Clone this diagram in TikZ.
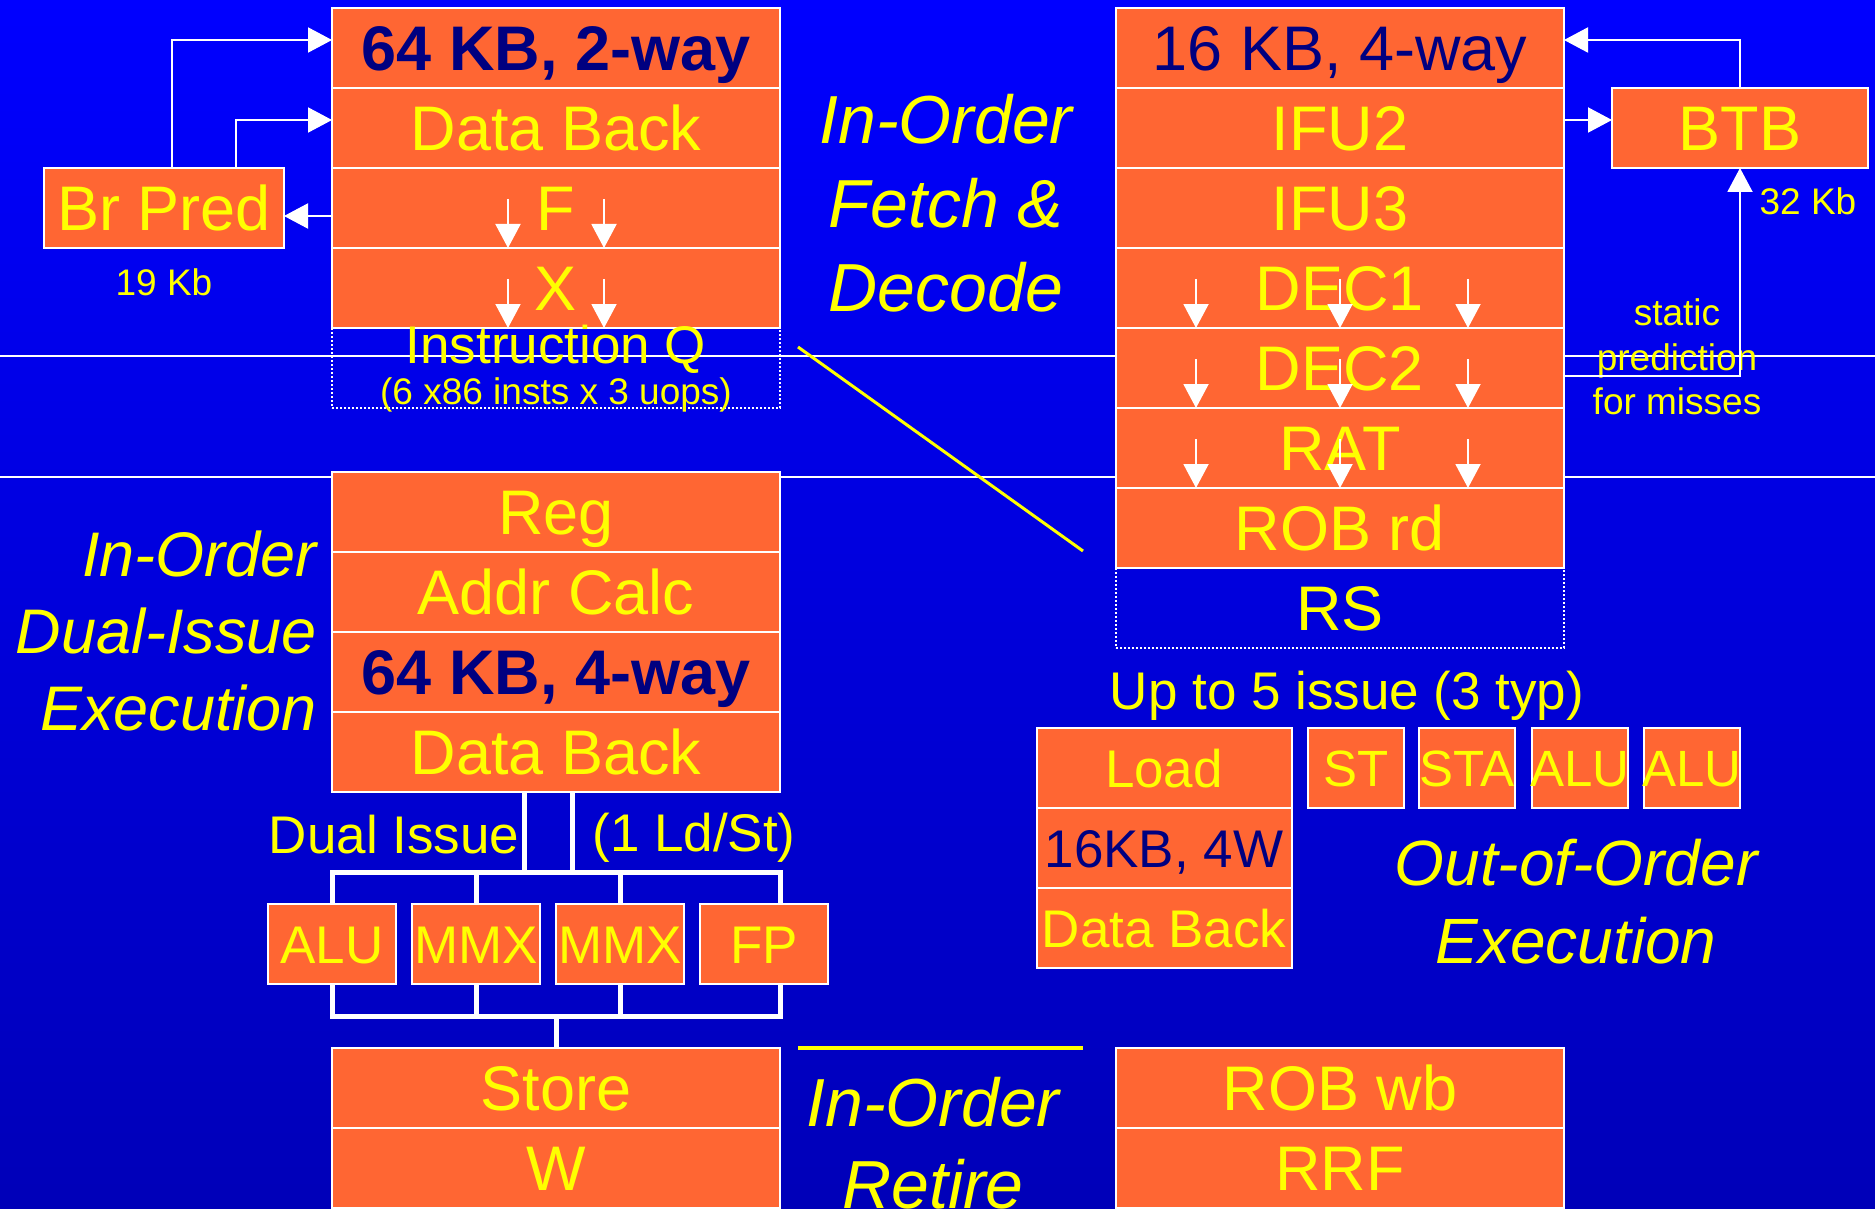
\documentclass[tikz,border=0pt]{standalone}
\usepackage{fontspec}
\setmainfont{Liberation Sans}
\usepackage{tikz}
\usetikzlibrary{arrows.meta,positioning,calc}
\definecolor{stagecol}{HTML}{FF6633}
\definecolor{textcol}{HTML}{FFFF00}
\definecolor{cachecol}{HTML}{000080}
\definecolor{bgtop}{HTML}{0000FF}
\definecolor{bgbot}{HTML}{0000B8}

\begin{document}
\begin{tikzpicture}[x=1pt,y=-1pt,
  stage/.style={draw=white,line width=2pt,fill=stagecol,text=textcol,
                minimum width=448pt,minimum height=80pt,inner sep=0pt,outer sep=0pt,
                font=\fontsize{63}{70}\selectfont,text height=45pt,text depth=0pt},
  cache/.style={stage,text=cachecol},
  bcache/.style={cache,font=\bfseries\fontsize{63}{70}\selectfont},
  loadbox/.style={stage,minimum width=255pt,font=\fontsize{53}{60}\selectfont,text height=38pt},
  unitbox/.style={stage,minimum width=128pt,font=\fontsize{53}{60}\selectfont,text height=38pt},
  portbox/.style={unitbox,minimum width=96pt,font=\fontsize{51}{60}\selectfont,text height=36.5pt},
  queue/.style={stage,fill=none,dash pattern=on 2pt off 2pt},
  flow/.style={draw=white,line width=2pt,-{Triangle[width=25pt,length=24pt]}},
  bus/.style={draw=white,line width=5pt},
  rule/.style={draw=white,line width=1.5pt},
  sep/.style={draw=textcol,line width=3pt},
  note/.style={text=textcol,font=\fontsize{53}{60}\selectfont,inner sep=0pt},
  small/.style={text=textcol,font=\fontsize{37}{44.5}\selectfont,inner sep=0pt,align=center},
  title/.style={text=textcol,inner sep=0pt,align=center},
]
\useasboundingbox (0,0) rectangle (1875,1209);
\shade[top color=bgtop,bottom color=bgbot] (0,0) rectangle (1875,1209);
\draw[rule] (0,356) -- (1875,356);
\draw[rule] (0,477) -- (1875,477);
\coordinate (dg1) at (798,347);
\coordinate (dg2) at (1083,551);
\draw[sep] (dg1) -- (dg2);
\coordinate (rt1) at (798,1048);
\coordinate (rt2) at (1083,1048);
\draw[sep,line width=3.5pt] (rt1) -- (rt2);

% in-order front end
\node[bcache] (ca) at (556,48) {64 KB, 2-way};
\foreach \i/\n/\l in {1/cb/Data Back,2/cf/F,3/cx/X} { \node[stage] (\n) at (556,48+80*\i) {\l}; }
\node[queue] (iq) at (556,368) {};
\node[note] (iqt) at (556,349) {Instruction Q};
\node[small] (iqs) at (556,395) {(6 x86 insts x 3 uops)};
\node[stage,minimum width=240pt] (bp) at (164,208) {Br Pred};
\node[small] (bpk) at (164,282) {19 Kb};

\node[cache] (ifa) at (1340,48) {16 KB, 4-way};
\foreach \i/\n/\l in {1/ifu2/IFU2,2/ifu3/IFU3,3/dec1/DEC1,4/dec2/DEC2,5/rat/RAT,6/robrd/ROB rd}
  { \node[stage] (\n) at (1340,48+80*\i) {\l}; }
\node[queue] (rs) at (1340,608) {RS};
\node[stage,minimum width=256pt] (btb) at (1740,128) {BTB};
\node[small] (btbk) at (1808,201) {32 Kb};
\node[small] (stat) at (1677,357) {static\\prediction\\for misses};

\draw[flow] ([xshift=8pt]bp.north) |- ([yshift=8pt]ca.west);
\draw[flow] ([xshift=72pt]bp.north) |- ([yshift=8pt]cb.west);
\draw[flow] ([yshift=-8pt]cf.west) -- ([yshift=-8pt]bp.east);
\foreach \n in {cf,cx} \foreach \dx in {-48,48}
  \draw[flow] ([xshift=\dx pt,yshift=9pt]\n.center) -- ([xshift=\dx pt]\n.south);
\foreach \n in {dec1,dec2,rat} \foreach \dx in {-144,0,128}
  \draw[flow] ([xshift=\dx pt,yshift=9pt]\n.center) -- ([xshift=\dx pt]\n.south);
\draw[flow] (btb.north) |- ([yshift=8pt]ifa.east);
\draw[flow] ([yshift=8pt]ifu2.east) -- ([yshift=8pt]btb.west);
\draw[flow] ([yshift=-8pt]dec2.east) -| (btb.south);

\node[title,font=\itshape\fontsize{68}{84}\selectfont] (tfd) at (946,203) {In-Order\\Fetch \&\\Decode};

% in-order execution
\foreach \i/\n/\l in {0/reg/Reg,1/adr/Addr Calc,3/db2/Data Back} { \node[stage] (\n) at (556,512+80*\i) {\l}; }
\node[bcache] (dca) at (556,672) {64 KB, 4-way};
\node[title,align=right,anchor=east,font=\itshape\fontsize{63}{77}\selectfont] (tdi) at (317,631)
  {In-Order\\Dual-Issue\\Execution};
\foreach \x/\n/\l in {332/alu/ALU,476/mmxa/MMX,620/mmxb/MMX,764/fp/FP} { \node[unitbox] (\n) at (\x,944) {\l}; }
\node[note] (dis) at (394,835) {Dual Issue};
\node[note] (lds) at (694,838) {(1 Ld/St)};
\coordinate (jt) at (556,872);
\coordinate (jb) at (556,1016);
\draw[bus] ([xshift=-32pt]db2.south) -- ([xshift=-32pt]db2.south |- jt);
\draw[bus] ([xshift=16pt]db2.south) -- ([xshift=16pt]db2.south |- jt);
\draw[bus] (alu.north) -- (alu.north |- jt) -- ([xshift=16pt]fp.north |- jt) -- ([xshift=16pt]fp.north);
\draw[bus] (alu.south) -- (alu.south |- jb) -- ([xshift=16pt]fp.south |- jb) -- ([xshift=16pt]fp.south);
\foreach \n in {mmxa,mmxb} { \draw[bus] (\n.north) -- (\n.north |- jt); \draw[bus] (\n.south) -- (\n.south |- jb); }
\node[stage] (st) at (556,1088) {Store};
\node[stage] (wb) at (556,1168) {W};
\draw[bus] (jb) -- (st.north);

% out-of-order core
\node[note] (upto) at (1347,696) {Up to 5 issue (3 typ)};
\node[loadbox] (ld) at (1164,768) {Load};
\node[loadbox,text=cachecol] (ldc) at (1164,848) {16KB, 4W};
\node[loadbox] (ldb) at (1164,928) {Data Back};
\foreach \x/\n/\l in {1356/pst/ST,1467/psta/STA,1580/palua/ALU,1692/palub/ALU}
  { \node[portbox] (\n) at (\x,768) {\makebox[0pt]{\l}}; }
\node[title,font=\itshape\fontsize{64}{78}\selectfont] (too) at (1576,902) {Out-of-Order\\Execution};

% retire
\node[stage] (robwb) at (1340,1088) {ROB wb};
\node[stage] (rrf) at (1340,1168) {RRF};
\node[title,font=\itshape\fontsize{68}{82}\selectfont] (tre) at (933,1143) {In-Order\\Retire};
\end{tikzpicture}
\end{document}
